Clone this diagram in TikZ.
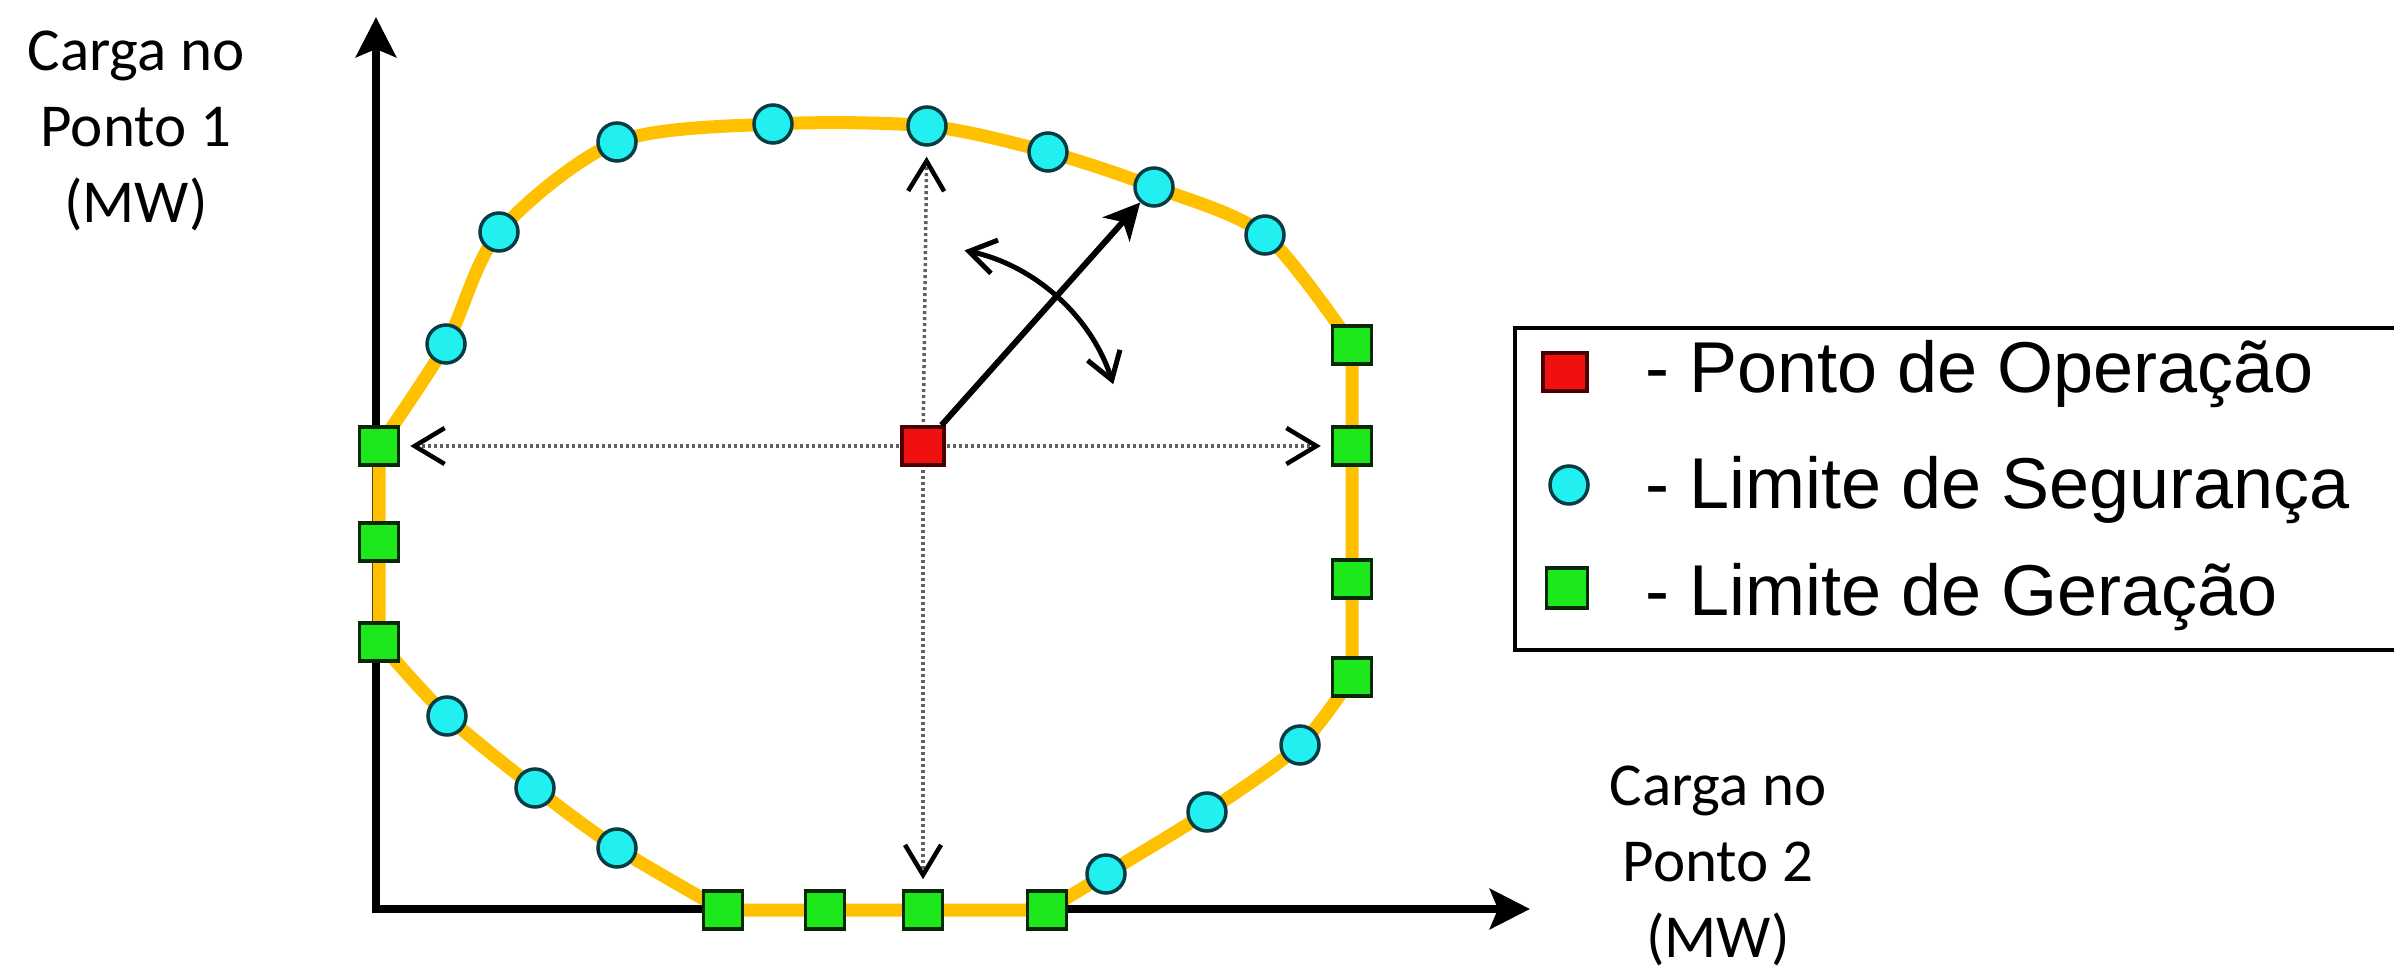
\documentclass[tikz,border=0pt]{standalone}
\usepackage{fontspec}
\newfontfamily\axisfont{Carlito}
\newfontfamily\keyfont{Liberation Sans}
\usetikzlibrary{arrows.meta,calc}
\pgfdeclarelayer{background}
\pgfsetlayers{background,main}

\definecolor{boundary}{HTML}{FFC000}
\definecolor{secfill}{HTML}{22F0F0}
\definecolor{secdraw}{HTML}{083C44}
\definecolor{genfill}{HTML}{1CE81C}
\definecolor{gendraw}{HTML}{082808}
\definecolor{opfill}{HTML}{F01010}
\definecolor{opdraw}{HTML}{4A0000}
\definecolor{guide}{HTML}{606060}

\begin{document}
\begin{tikzpicture}[x=1pt,y=-1pt,
  secpt/.style={circle, minimum size=38pt, inner sep=0pt, fill=secfill, draw=secdraw, line width=3.5pt},
  genpt/.style={rectangle, minimum width=39pt, minimum height=38pt, inner sep=0pt, fill=genfill, draw=gendraw, line width=3.5pt},
  oppt/.style={rectangle, minimum width=42pt, minimum height=38pt, inner sep=0pt, fill=opfill, draw=opdraw, line width=3.5pt},
  axisline/.style={line width=8pt, {Stealth[length=40pt,width=40pt,inset=8pt]}-{Stealth[length=40pt,width=40pt,inset=8pt]}},
  regionline/.style={draw=boundary, line width=13pt, line join=round},
  guideline/.style={draw=guide, line width=3.5pt, dash pattern=on 3pt off 3pt, shorten >=10pt,
    -{Straight Barb[length=30pt,width=36pt,line width=4.5pt,black]}},
  moveline/.style={line width=6pt, -{Stealth[length=36pt,width=36pt,inset=10pt]}},
  rotline/.style={line width=5pt, {Straight Barb[length=26pt,width=34pt,line width=5pt]}-{Straight Barb[length=26pt,width=34pt,line width=5pt]}},
  axislabel/.style={align=center, inner sep=0pt, font=\axisfont\fontsize{61}{76}\selectfont},
  keytext/.style={anchor=base west, inner sep=0pt, font=\keyfont\fontsize{72}{86}\selectfont},
  keybox/.style={draw, line width=4pt, anchor=north west, inner sep=0pt}]

\path[use as bounding box] (0,0) rectangle (2394,966);

% axes corner and tips
\coordinate (o) at (376,909);
\coordinate (ytip) at (376,17);
\coordinate (xtip) at (1530,909);

% boundary points, clockwise from the left
\node[genpt] (g1) at (379,446) {};
\node[secpt] (c1) at (446,344) {};
\node[secpt] (c2) at (499,232) {};
\node[secpt] (c3) at (617,142) {};
\node[secpt] (c4) at (773,124) {};
\node[secpt] (c5) at (927,126) {};
\node[secpt] (c6) at (1048,152) {};
\node[secpt] (c7) at (1154,187) {};
\node[secpt] (c8) at (1265,235) {};
\node[genpt] (g2) at (1352,345) {};
\node[genpt] (g3) at (1352,446) {};
\node[genpt] (g4) at (1352,579) {};
\node[genpt] (g5) at (1352,677) {};
\node[secpt] (c9) at (1300,745) {};
\node[secpt] (c10) at (1207,812) {};
\node[secpt] (c11) at (1106,874) {};
\node[genpt] (g6) at (1047,910) {};
\node[genpt] (g7) at (923,910) {};
\node[genpt] (g8) at (825,910) {};
\node[genpt] (g9) at (723,910) {};
\node[secpt] (c12) at (617,848) {};
\node[secpt] (c13) at (535,788) {};
\node[secpt] (c14) at (447,716) {};
\node[genpt] (g10) at (379,642) {};
\node[genpt] (g11) at (379,542) {};

% operating point
\node[oppt] (op) at (923,446) {};

\begin{pgfonlayer}{background}
  \fill[white] (0,0) rectangle (2394,966);
  \draw[axisline] (ytip) -- (o) -- (xtip);
  % security region: curved between the security limits, straight along the generation limits
  \draw[regionline]
    plot[smooth, tension=0.5] coordinates {(g1.center) (c1.center) (c2.center) (c3.center)
      (c4.center) (c5.center) (c6.center) (c7.center) (c8.center) (g2.center)}
    -- (g3.center) -- (g4.center) -- (g5.center)
    -- plot[smooth, tension=0.5] coordinates {(g5.center) (c9.center) (c10.center) (c11.center) (g6.center)}
    -- (g7.center) -- (g8.center) -- (g9.center)
    -- plot[smooth, tension=0.5] coordinates {(g9.center) (c12.center) (c13.center) (c14.center) (g10.center)}
    -- (g11.center) -- cycle;
  \draw[guideline] (op.center) -- (g1);
  \draw[guideline] (op.center) -- (g3);
  \draw[guideline] (op.center) -- (c5);
  \draw[guideline] (op.center) -- (g7);
\end{pgfonlayer}

% search direction and its rotation
\draw[moveline] (op) -- (c7);
\coordinate (rotA) at ($(op.center)+(-78:200)$);
\draw[rotline] (rotA) arc[start angle=-78, end angle=-18, radius=200];

% axis labels
\node[axislabel, anchor=north] (ylab) at (136,31) {Carga no\\Ponto 1\\(MW)};
\node[axislabel, anchor=north] (xlab) at (1718,766) {Carga no\\Ponto 2\\(MW)};

% legend
\node[keybox, minimum width=890pt, minimum height=322pt] (key) at (1513,326) {};
\node[oppt, minimum width=44pt] (kop) at (1565,372) {};
\node[secpt] (ksec) at (1569,485) {};
\node[genpt, minimum width=41pt, minimum height=40pt] (kgen) at (1567,588) {};
\node[keytext] (top) at (1645,392) {- Ponto de Operação};
\node[keytext] (tsec) at (1645,508) {- Limite de Segurança};
\node[keytext] (tgen) at (1645,615) {- Limite de Geração};
\end{tikzpicture}
\end{document}
